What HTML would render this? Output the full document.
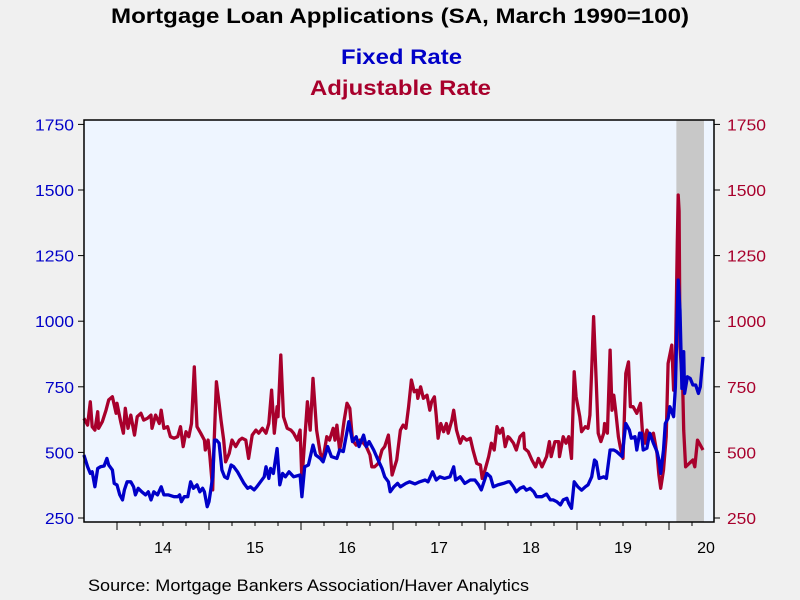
<!DOCTYPE html>
<html><head><meta charset="utf-8"><style>
body{margin:0;background:#f0f0f0;}
svg{display:block;font-family:"Liberation Sans",Arial,sans-serif;}
</style></head><body>
<svg id="chart" width="800" height="600">
<rect x="0" y="0" width="800" height="600" fill="#f0f0f0"/>
<text x="111" y="23" font-size="21" font-weight="bold" fill="#000" textLength="578" lengthAdjust="spacingAndGlyphs">Mortgage Loan Applications (SA, March 1990=100)</text>
<text x="341" y="64" font-size="21" font-weight="bold" fill="#0000c8" textLength="121" lengthAdjust="spacingAndGlyphs">Fixed Rate</text>
<text x="310" y="95" font-size="21" font-weight="bold" fill="#a8002c" textLength="181" lengthAdjust="spacingAndGlyphs">Adjustable Rate</text>
<rect x="84" y="120" width="630" height="402" fill="#eef5ff"/>
<g id="rec"></g>
<g id="lines"></g>
<rect x="84" y="120" width="630" height="402" fill="none" stroke="#000" stroke-width="1.5"/>
<g id="axes"></g>
<text x="88" y="591" font-size="17" fill="#000" textLength="441" lengthAdjust="spacingAndGlyphs">Source:  Mortgage Bankers Association/Haver Analytics</text>
</svg>
<script>
const yTicks=[250,500,750,1000,1250,1500,1750];
const yearLabels=["14","15","16","17","18","19","20"];
const yearStarts=[2014,2015,2016,2017,2018,2019,2020];
const recession=[2020.08,2020.38];
const fixedDates=[2013.64,2013.68,2013.71,2013.73,2013.76,2013.79,2013.82,2013.86,2013.89,2013.91,2013.95,2013.97,2014.00,2014.03,2014.06,2014.08,2014.11,2014.15,2014.18,2014.20,2014.23,2014.27,2014.31,2014.34,2014.37,2014.40,2014.44,2014.48,2014.51,2014.56,2014.62,2014.66,2014.68,2014.70,2014.73,2014.77,2014.80,2014.83,2014.87,2014.90,2014.93,2014.95,2014.98,2015.00,2015.04,2015.06,2015.08,2015.11,2015.14,2015.17,2015.20,2015.24,2015.27,2015.31,2015.35,2015.38,2015.42,2015.45,2015.49,2015.52,2015.56,2015.60,2015.62,2015.65,2015.67,2015.70,2015.74,2015.77,2015.80,2015.83,2015.87,2015.92,2015.99,2016.01,2016.04,2016.08,2016.13,2016.16,2016.21,2016.24,2016.29,2016.33,2016.39,2016.42,2016.46,2016.50,2016.52,2016.56,2016.60,2016.63,2016.68,2016.71,2016.74,2016.79,2016.83,2016.88,2016.91,2016.95,2016.97,2017.01,2017.05,2017.08,2017.14,2017.18,2017.24,2017.29,2017.35,2017.38,2017.43,2017.47,2017.51,2017.56,2017.62,2017.66,2017.68,2017.73,2017.78,2017.84,2017.89,2017.93,2017.96,2018.02,2018.06,2018.09,2018.14,2018.20,2018.25,2018.27,2018.31,2018.34,2018.38,2018.42,2018.45,2018.49,2018.53,2018.56,2018.62,2018.67,2018.71,2018.74,2018.78,2018.82,2018.85,2018.89,2018.91,2018.94,2018.97,2019.01,2019.05,2019.09,2019.12,2019.16,2019.19,2019.21,2019.24,2019.29,2019.32,2019.36,2019.40,2019.43,2019.49,2019.53,2019.57,2019.59,2019.63,2019.65,2019.68,2019.70,2019.72,2019.76,2019.79,2019.83,2019.87,2019.89,2019.91,2019.94,2019.96,2019.99,2020.01,2020.05,2020.07,2020.10,2020.12,2020.14,2020.16,2020.17,2020.20,2020.23,2020.26,2020.29,2020.32,2020.34,2020.37];
const fixedValues=[490,445,420,426,369,439,445,448,477,452,433,382,376,338,319,357,388,388,369,338,363,350,338,350,319,350,338,369,338,338,331,331,338,312,331,331,388,363,376,350,363,350,293,312,407,547,547,535,433,407,401,452,445,426,401,382,363,369,357,369,388,407,445,401,439,420,515,376,420,407,426,407,414,331,445,452,528,490,477,464,522,484,477,509,503,579,617,541,560,522,566,522,541,509,477,439,407,388,350,369,382,369,382,388,380,388,395,388,426,395,407,401,407,445,395,407,382,395,395,376,357,420,407,369,376,382,388,388,369,350,363,369,356,363,350,331,331,341,319,319,312,300,319,325,306,287,388,369,356,369,376,407,471,464,401,407,401,509,509,503,484,610,585,554,560,509,573,573,509,516,573,535,503,471,420,509,610,630,674,636,750,1157,1042,744,884,725,788,782,757,757,725,750,864];
const adjDates=[2013.64,2013.68,2013.71,2013.73,2013.76,2013.79,2013.80,2013.84,2013.88,2013.91,2013.95,2013.99,2014.00,2014.04,2014.07,2014.09,2014.12,2014.15,2014.19,2014.22,2014.26,2014.29,2014.33,2014.37,2014.38,2014.42,2014.46,2014.48,2014.51,2014.55,2014.58,2014.62,2014.66,2014.69,2014.72,2014.75,2014.78,2014.81,2014.84,2014.87,2014.91,2014.95,2014.96,2014.99,2015.01,2015.04,2015.05,2015.08,2015.11,2015.13,2015.16,2015.18,2015.22,2015.25,2015.29,2015.33,2015.36,2015.40,2015.43,2015.47,2015.51,2015.54,2015.58,2015.62,2015.65,2015.68,2015.71,2015.74,2015.75,2015.78,2015.81,2015.85,2015.89,2015.92,2015.96,2015.99,2016.01,2016.04,2016.07,2016.10,2016.13,2016.17,2016.21,2016.24,2016.28,2016.31,2016.35,2016.37,2016.39,2016.42,2016.44,2016.47,2016.50,2016.53,2016.56,2016.60,2016.64,2016.68,2016.71,2016.75,2016.77,2016.80,2016.84,2016.88,2016.91,2016.95,2016.97,2016.99,2017.04,2017.08,2017.11,2017.14,2017.17,2017.20,2017.23,2017.26,2017.27,2017.30,2017.33,2017.37,2017.40,2017.42,2017.45,2017.47,2017.49,2017.52,2017.55,2017.58,2017.60,2017.64,2017.66,2017.69,2017.73,2017.76,2017.80,2017.84,2017.87,2017.91,2017.95,2017.97,2018.00,2018.04,2018.07,2018.10,2018.13,2018.16,2018.19,2018.22,2018.25,2018.27,2018.31,2018.34,2018.38,2018.42,2018.43,2018.47,2018.51,2018.55,2018.58,2018.62,2018.67,2018.70,2018.72,2018.76,2018.80,2018.81,2018.85,2018.88,2018.91,2018.94,2018.97,2018.99,2019.03,2019.05,2019.09,2019.12,2019.14,2019.16,2019.18,2019.21,2019.23,2019.26,2019.29,2019.30,2019.33,2019.36,2019.38,2019.40,2019.42,2019.45,2019.47,2019.50,2019.53,2019.56,2019.58,2019.61,2019.65,2019.69,2019.71,2019.74,2019.76,2019.79,2019.83,2019.87,2019.89,2019.91,2019.94,2019.97,2019.99,2020.03,2020.05,2020.07,2020.09,2020.10,2020.11,2020.12,2020.15,2020.16,2020.18,2020.22,2020.26,2020.28,2020.31,2020.34,2020.37];
const adjValues=[630,604,693,598,585,655,592,617,661,700,712,649,687,617,573,668,592,642,566,636,649,623,630,642,592,642,610,661,592,598,560,554,560,598,522,579,560,610,826,598,573,547,509,547,484,357,484,769,687,623,547,464,496,547,522,547,554,547,477,566,585,573,592,573,610,737,573,674,636,871,636,592,585,573,547,585,395,547,693,585,782,585,496,477,560,547,592,547,604,509,547,623,687,668,547,528,547,535,522,490,445,445,458,509,522,566,496,414,471,585,604,592,674,776,731,737,706,750,706,718,661,693,712,642,554,610,579,610,573,623,661,585,535,560,547,554,509,458,452,401,433,484,535,509,598,573,592,522,560,554,535,509,560,573,515,503,471,445,477,445,484,541,484,541,541,484,560,535,560,477,807,712,636,579,598,592,642,814,1017,763,573,541,573,610,573,890,661,718,661,560,522,477,801,845,674,674,649,687,585,535,585,560,573,496,414,363,433,560,839,909,737,839,1300,1481,1420,903,737,585,445,458,471,445,547,528,509];

const X=t=>117+(t-2014)*92;
const Y=v=>518-(v-250)*65.6/250;
const NS="http://www.w3.org/2000/svg";
function mk(tag,attrs,parent){const e=document.createElementNS(NS,tag);for(const k in attrs)e.setAttribute(k,attrs[k]);parent.appendChild(e);return e;}
const rec=document.getElementById('rec');
const r=mk('rect',{x:X(recession[0]),y:120,width:X(recession[1])-X(recession[0]),height:402,fill:'#c8c8c8'},rec);


const lines=document.getElementById('lines');
function path(d,v){return d.map((t,i)=>(i?'L':'M')+X(t).toFixed(1)+' '+Y(v[i]).toFixed(1)).join(' ');}
const pa=mk('path',{d:path(adjDates,adjValues),fill:'none',stroke:'#a8002c','stroke-width':3.3,'stroke-linejoin':'round'},lines);


const pf=mk('path',{d:path(fixedDates,fixedValues),fill:'none',stroke:'#0000c8','stroke-width':3.3,'stroke-linejoin':'round'},lines);


const ax=document.getElementById('axes');
yTicks.forEach(v=>{
  const y=Y(v);
  const w=String(v).length===4?39:29;
  mk('line',{x1:84,x2:78,y1:y,y2:y,stroke:'#000'},ax);
  mk('line',{x1:714,x2:720,y1:y,y2:y,stroke:'#000'},ax);
  const l=mk('text',{x:74-w,y:y+6,'font-size':16,fill:'#0000c8',textLength:w,lengthAdjust:'spacingAndGlyphs'},ax);l.textContent=v;
  
  
  const rr=mk('text',{x:727,y:y+6,'font-size':16,fill:'#a8002c',textLength:w,lengthAdjust:'spacingAndGlyphs'},ax);rr.textContent=v;
  
  
});
yearStarts.forEach((yr,i)=>{
  mk('line',{x1:X(yr),x2:X(yr),y1:522,y2:530,stroke:'#000'},ax);
  for(let q=1;q<4;q++){const xq=X(yr+q/4);if(xq<714)mk('line',{x1:xq,x2:xq,y1:522,y2:526,stroke:'#000'},ax);}
  const xm=Math.min(X(yr+0.5),706);
  const t=mk('text',{x:xm,y:553,'text-anchor':'middle','font-size':16,fill:'#000'},ax);t.textContent=yearLabels[i];
  
  
});
</script>
</body></html>
